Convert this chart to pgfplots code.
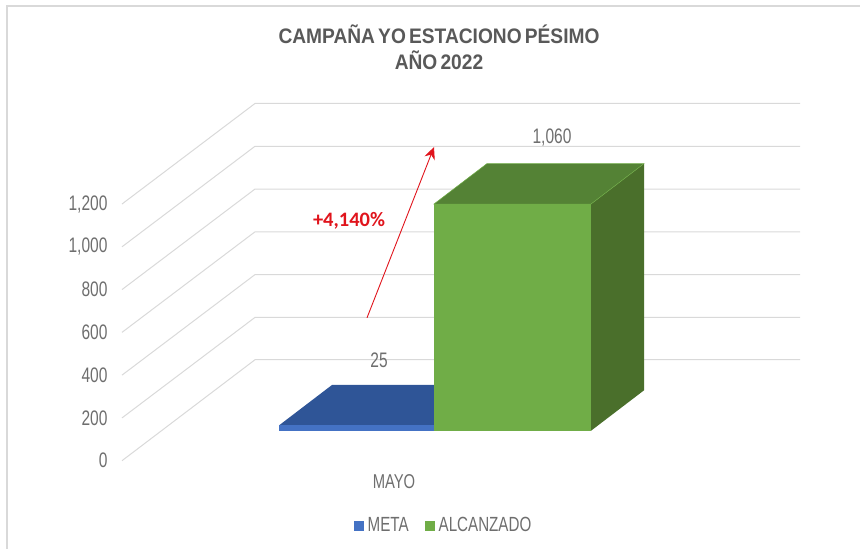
\documentclass[border=0pt]{standalone}
\usepackage{fontspec}
\usepackage{pgfplots}
\pgfplotsset{compat=1.18}
\usetikzlibrary{arrows.meta}
\setmainfont{Liberation Sans}
\newfontfamily\narrow[FakeStretch=0.74]{Liberation Sans}
\newfontfamily\titlef[FakeStretch=0.913,WordSpace=0.6]{Liberation Sans}
\newfontfamily\calib{Carlito}
\definecolor{gridc}{HTML}{D9D9D9}
\definecolor{txtc}{HTML}{6E6E6E}
\definecolor{titlec}{HTML}{595959}
\definecolor{metaf}{HTML}{4472C4}
\definecolor{metat}{HTML}{2F5597}
\definecolor{alcf}{HTML}{70AD47}
\definecolor{alct}{HTML}{548235}
\definecolor{alcs}{HTML}{4A6F2B}
\definecolor{flecha}{HTML}{E0141C}
\begin{document}
\begin{tikzpicture}
\begin{axis}[
  scale only axis,
  width=860pt, height=549pt,
  xmin=0, xmax=860,
  ymin=-412.8, ymax=2153.8,
  axis line style={draw=none},
  tick style={draw=none},
  xtick=\empty,
  ytick={0,200,400,600,800,1000,1200},
  /pgf/number format/assume math mode=true,
  /pgf/number format/1000 sep={,},
  yticklabel style={anchor=east, xshift=111pt, text=txtc, font=\narrow\fontsize{21}{21}\selectfont},
  legend style={at={(axis cs:443.5,-303)}, anchor=center, draw=none, fill=none,
    legend columns=2, font=\narrow\fontsize{20.5}{20.5}\selectfont, text=txtc,
    /tikz/every even column/.append style={column sep=14pt}},
  legend image code/.code={\fill[#1] (8pt,-5pt) rectangle (18pt,5pt); \path (20pt,0pt);},
]
% chart frame
\addplot[gridc, line width=2pt, forget plot] coordinates {(7,-412.8) (7,2128) (860,2128)};

% gridlines: side wall then back wall
\addplot[gridc, line width=1pt, forget plot] coordinates {(122,0) (255,472) (800,472)};
\addplot[gridc, line width=1pt, forget plot] coordinates {(122,200) (255,670) (800,670)};
\addplot[gridc, line width=1pt, forget plot] coordinates {(122,400) (255,870) (800,870)};
\addplot[gridc, line width=1pt, forget plot] coordinates {(122,600) (255,1070) (800,1070)};
\addplot[gridc, line width=1pt, forget plot] coordinates {(122,800) (255,1270) (800,1270)};
\addplot[gridc, line width=1pt, forget plot] coordinates {(122,1000) (255,1470) (800,1470)};
\addplot[gridc, line width=1pt, forget plot] coordinates {(122,1200) (255,1670) (800,1670)};

% META = 25, floor of the bar sits at 140, depth 189
\addplot[draw=none, fill=metat, forget plot] coordinates {(279,165) (332,354) (487,354) (434,165)} --cycle;
\addplot[draw=none, fill=metaf] coordinates {(279,140) (434,140) (434,165) (279,165)} --cycle;
\addlegendentry{META}

% ALCANZADO = 1060
\addplot[draw=none, fill=alcs, forget plot] coordinates {(591,140) (644,329) (644,1389) (591,1200)} --cycle;
\addplot[alcf, line width=0.5pt, fill=alct, forget plot] coordinates {(434,1200) (487,1389) (644,1389) (591,1200)} --cycle;
\addplot[draw=none, fill=alcf] coordinates {(434,140) (591,140) (591,1200) (434,1200)} --cycle;
\addlegendentry{ALCANZADO}

\node[text=titlec, align=center, font=\titlef\bfseries\fontsize{21}{26}\selectfont]
  at (axis cs:439,1933) {CAMPAÑA YO ESTACIONO PÉSIMO\\AÑO 2022};
\node[text=txtc, font=\narrow\fontsize{21}{21}\selectfont] at (axis cs:552,1513) {1,060};
\node[text=txtc, font=\narrow\fontsize{21}{21}\selectfont] at (axis cs:379,471) {25};
\node[text=txtc, font=\narrow\fontsize{20}{20}\selectfont] at (axis cs:394,-98) {MAYO};
\node[text=flecha, font=\calib\bfseries\fontsize{20.5}{20.5}\selectfont] at (axis cs:349,1122) {+4,140\%};
\draw[flecha, line width=0.9pt, -{Stealth[length=12pt,width=11pt]}]
  (axis cs:367,668) -- (axis cs:434,1466);
\end{axis}
\end{tikzpicture}
\end{document}
